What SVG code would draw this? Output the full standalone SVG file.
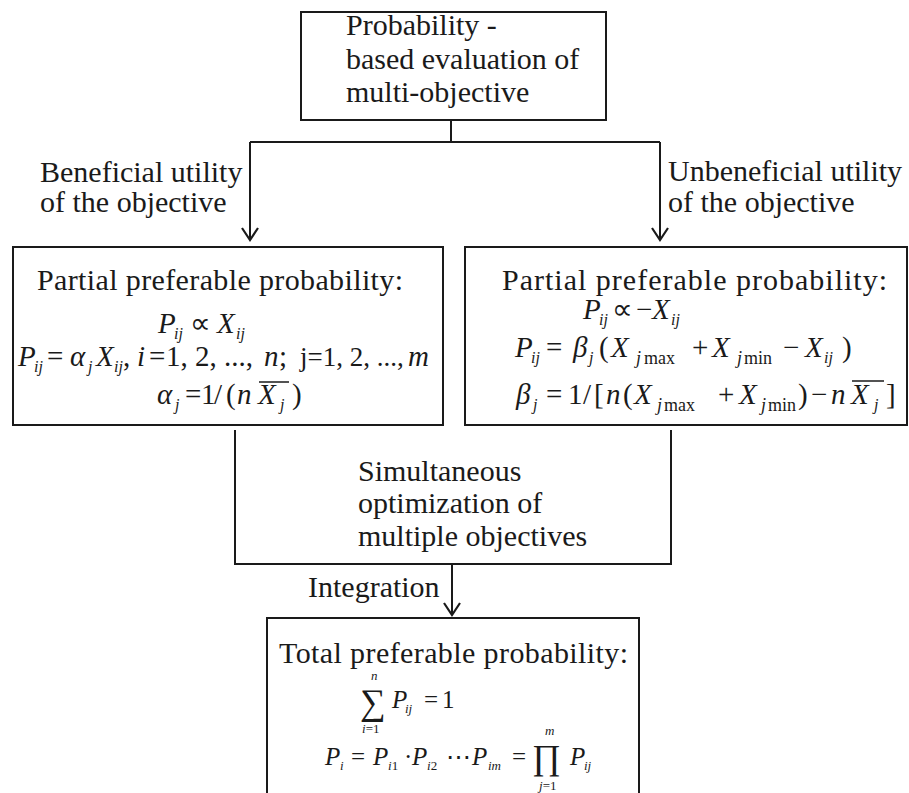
<svg xmlns="http://www.w3.org/2000/svg" width="909" height="793" viewBox="0 0 909 793">
<defs>
<style>
.box{fill:#fff;stroke:#1a1a1a;stroke-width:2}
.ln{fill:none;stroke:#1a1a1a;stroke-width:2}
.t{font-family:"Liberation Serif","Times New Roman",serif;font-size:30px;fill:#1a1a1a}
.m{font-family:"Liberation Serif","Times New Roman",serif;font-size:29px;fill:#1a1a1a}
.i{font-style:italic}
.s{font-size:16px}
.u{font-size:18px}
.b{font-size:25px}
.bs{font-size:13px}
</style>
<marker id="arr" viewBox="-14 -10 16 20" refX="0" refY="0" markerWidth="16" markerHeight="20" markerUnits="userSpaceOnUse" orient="auto">
<path d="M-12,-8 L0,0 L-12,8" fill="none" stroke="#1a1a1a" stroke-width="2.2"/>
</marker>
</defs>
<rect width="909" height="793" fill="#fff"/>

<g id="connectors">
<path class="ln" d="M451,120 V142"/>
<path class="ln" d="M250,142 H660"/>
<path class="ln" d="M250,142 V240" marker-end="url(#arr)"/>
<path class="ln" d="M660,142 V240" marker-end="url(#arr)"/>
<path class="ln" d="M235,430 V564 H671 V430"/>
<path class="ln" d="M452,564 V615" marker-end="url(#arr)"/>
<text class="t" x="40" y="182">Beneficial utility</text>
<text class="t" x="40" y="212">of the objective</text>
<text class="t" x="668" y="181">Unbeneficial utility</text>
<text class="t" x="668" y="212">of the objective</text>
<text class="t" x="358" y="481">Simultaneous</text>
<text class="t" x="358" y="513">optimization of</text>
<text class="t" x="358" y="546">multiple objectives</text>
<text class="t" x="308" y="597">Integration</text>
</g>

<g id="top">
<rect class="box" x="301" y="12" width="305" height="108"/>
<text class="t" x="346" y="35">Probability -</text>
<text class="t" x="346" y="69">based evaluation of</text>
<text class="t" x="346" y="102">multi-objective</text>
</g>

<g id="beneficial">
<rect class="box" x="13" y="247" width="430" height="178"/>
<text class="t" x="37" y="290" textLength="366">Partial preferable probability:</text>
<text class="m"><tspan class="i" x="158" y="333">P</tspan><tspan class="i s" x="174" y="339">ij</tspan><tspan x="190" y="333">∝</tspan><tspan class="i" x="217" y="333">X</tspan><tspan class="i s" x="236" y="339">ij</tspan></text>
<text class="m"><tspan class="i" x="18" y="366">P</tspan><tspan class="i s" x="34" y="372">ij</tspan><tspan x="47" y="366">=</tspan><tspan class="i" x="70" y="366">α</tspan><tspan class="i s" x="88" y="372">j</tspan><tspan class="i" x="96" y="366">X</tspan><tspan class="i s" x="114" y="372">ij</tspan><tspan x="123" y="366">,</tspan><tspan class="i" x="137" y="366">i</tspan><tspan x="149" y="366">=</tspan><tspan x="166" y="366">1, 2, ...,</tspan><tspan class="i" x="264" y="366">n</tspan><tspan x="279" y="366">;</tspan><tspan x="300" y="366" style="font-size:27px">j=1, 2, ...,</tspan><tspan class="i" x="408" y="366">m</tspan></text>
<text class="m"><tspan class="i" x="157" y="404">α</tspan><tspan class="i s" x="175" y="410">j</tspan><tspan x="185" y="404">=</tspan><tspan x="201" y="404">1</tspan><tspan x="214" y="404">/</tspan><tspan x="226" y="404">(</tspan><tspan class="i" x="237" y="404">n</tspan><tspan class="i" x="258" y="404">X</tspan><tspan class="i s" x="280" y="410">j</tspan><tspan x="292" y="404">)</tspan></text>
<path class="ln" d="M259,382 H289" style="stroke-width:1.5"/>
</g>

<g id="unbeneficial">
<rect class="box" x="465" y="247" width="442" height="178"/>
<text class="t" x="502" y="290" textLength="385">Partial preferable probability:</text>
<text class="m"><tspan class="i" x="583" y="319">P</tspan><tspan class="i s" x="599" y="325">ij</tspan><tspan x="612" y="319">∝</tspan><tspan x="636" y="319">−</tspan><tspan class="i" x="652" y="319">X</tspan><tspan class="i s" x="671" y="325">ij</tspan></text>
<text class="m"><tspan class="i" x="515" y="357">P</tspan><tspan class="i s" x="531" y="363">ij</tspan><tspan x="546" y="357">=</tspan><tspan class="i" x="573" y="357">β</tspan><tspan class="i s" x="589" y="363">j</tspan><tspan x="599" y="357">(</tspan><tspan class="i" x="611" y="357">X</tspan><tspan class="i u" x="636" y="364">j</tspan><tspan class="u" x="644" y="364">max</tspan><tspan x="692" y="357">+</tspan><tspan class="i" x="712" y="357">X</tspan><tspan class="i u" x="737" y="364">j</tspan><tspan class="u" x="744" y="364">min</tspan><tspan x="783" y="357">−</tspan><tspan class="i" x="805" y="357">X</tspan><tspan class="i s" x="824" y="363">ij</tspan><tspan x="842" y="357">)</tspan></text>
<text class="m"><tspan class="i" x="516" y="404">β</tspan><tspan class="i s" x="533" y="410">j</tspan><tspan x="546" y="404">=</tspan><tspan x="568" y="404">1</tspan><tspan x="583" y="404">/</tspan><tspan x="594" y="404">[</tspan><tspan class="i" x="606" y="404">n</tspan><tspan x="623" y="404">(</tspan><tspan class="i" x="634" y="404">X</tspan><tspan class="i u" x="657" y="411">j</tspan><tspan class="u" x="664" y="411">max</tspan><tspan x="718" y="404">+</tspan><tspan class="i" x="739" y="404">X</tspan><tspan class="i u" x="761" y="411">j</tspan><tspan class="u" x="768" y="411">min</tspan><tspan x="798" y="404">)</tspan><tspan x="811" y="404">−</tspan><tspan class="i" x="831" y="404">n</tspan><tspan class="i" x="851" y="404">X</tspan><tspan class="i s" x="874" y="410">j</tspan><tspan x="886" y="404">]</tspan></text>
<path class="ln" d="M852,381 H884" style="stroke-width:1.5"/>
</g>

<g id="total">
<rect class="box" x="267" y="618" width="372" height="200"/>
<text class="t" x="279" y="663" textLength="349">Total preferable probability:</text>
<text class="m b"><tspan x="360" y="714" style="font-size:36px">∑</tspan><tspan class="i bs" x="371" y="680">n</tspan><tspan class="bs" x="362" y="733"><tspan class="i">i</tspan>=1</tspan><tspan class="i" x="392" y="708">P</tspan><tspan class="i bs" x="405" y="713">ij</tspan><tspan x="424" y="708">=</tspan><tspan x="442" y="708">1</tspan></text>
<text class="m b"><tspan class="i" x="325" y="765">P</tspan><tspan class="i bs" x="340" y="770">i</tspan><tspan x="351" y="765">=</tspan><tspan class="i" x="373" y="765">P</tspan><tspan class="bs" x="388" y="770"><tspan class="i">i</tspan>1</tspan><tspan x="404" y="765">·</tspan><tspan class="i" x="412" y="765">P</tspan><tspan class="bs" x="427" y="770"><tspan class="i">i</tspan>2</tspan><tspan x="446" y="765">⋯</tspan><tspan class="i" x="472" y="765">P</tspan><tspan class="i bs" x="488" y="770">im</tspan><tspan x="512" y="765">=</tspan><tspan x="532" y="769" style="font-size:35px">∏</tspan><tspan class="i bs" x="545" y="735">m</tspan><tspan class="bs" x="539" y="790"><tspan class="i">j</tspan>=1</tspan><tspan class="i" x="570" y="765">P</tspan><tspan class="i bs" x="584" y="770">ij</tspan></text>
</g>
</svg>
